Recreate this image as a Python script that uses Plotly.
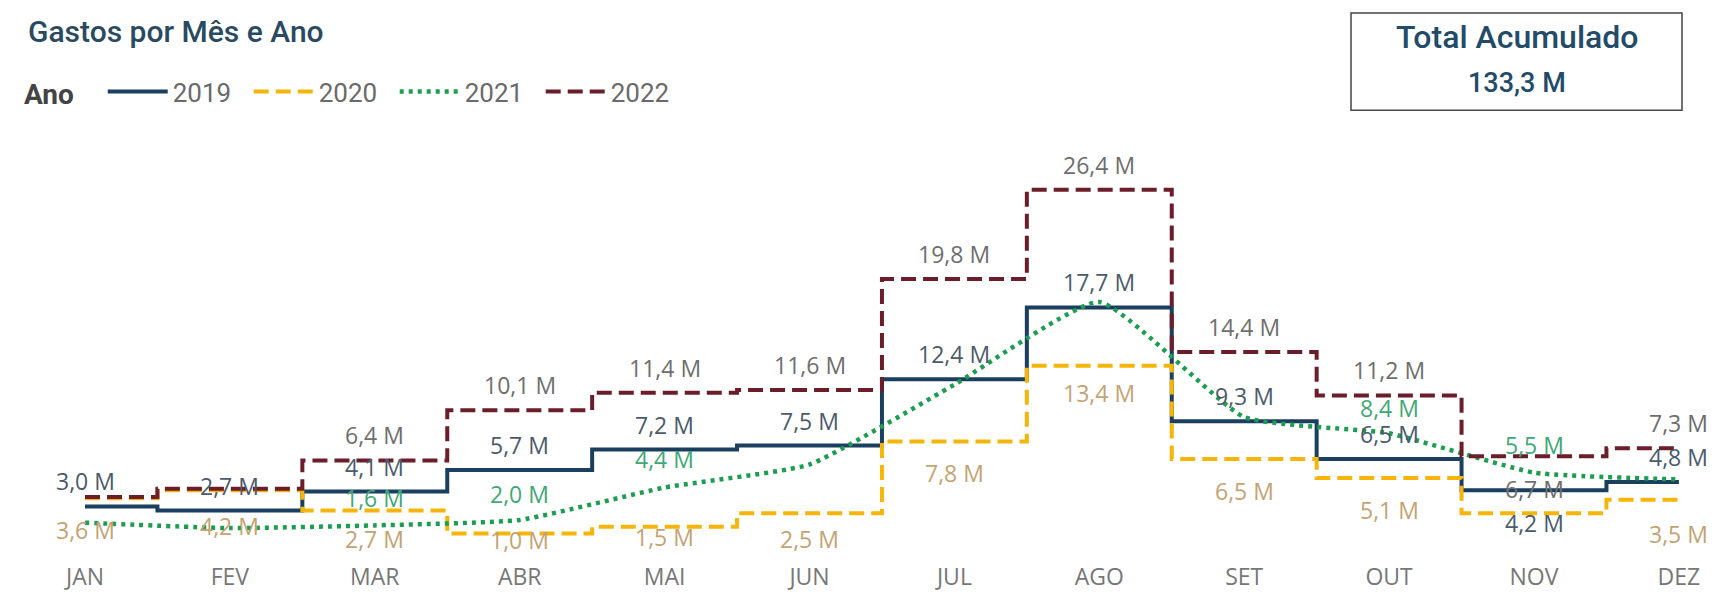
import plotly.graph_objects as go

# ---- data (values in millions) ----
months = ["JAN", "FEV", "MAR", "ABR", "MAI", "JUN", "JUL", "AGO", "SET", "OUT", "NOV", "DEZ"]
years = ["2019", "2020", "2021", "2022"]
v2019 = [3.0, 2.7, 4.1, 5.7, 7.2, 7.5, 12.4, 17.7, 9.3, 6.5, 4.2, 4.8]
v2020 = [3.6, 4.2, 2.7, 1.0, 1.5, 2.5, 7.8, 13.4, 6.5, 5.1, 2.5, 3.5]
v2021 = [1.8, 1.4, 1.6, 2.0, 4.4, 6.1, 12.0, 18.1, 9.6, 8.4, 5.5, 5.0]
v2022 = [3.7, 4.3, 6.4, 10.1, 11.4, 11.6, 19.8, 26.4, 14.4, 11.2, 6.7, 7.3]
series_values = [v2019, v2020, v2021, v2022]

# ---- styles ----
line_colors = ["#1B3F5E", "#F5B50A", "#1C9E50", "#6B1E2A"]
label_colors = ["#4B5B6B", "#C4A373", "#3FA877", "#6E6E6E"]
line_dash = ["solid", "15px,7px", "4px,5px", "15px,7px"]
line_shape = ["hvh", "hvh", "spline", "hvh"]
line_width = [4, 4, 4.5, 4]
# vertical offset of each data label in pixels (None = label hidden, as in the original)
label_shift = [
    [25, 25, 25, 25, 25, 25, 25, 25, 25, 25, -33, 25],
    [-32, -36, -28, -6, -10, -26, -32, -27, -32, -32, None, -34],
    [None, None, 27, 26, 28, None, None, None, None, 25, 28, None],
    [None, None, 25, 25, 25, 25, 25, 25, 25, 25, -33, 25],
]

OFF = 8                      # page body margin
W, H = 1702, 584             # figure size (fits the 1718x600 window with the body margin)
ML, MR, MT, MB = 0, 0, 112, 34
plot_w = W - ML - MR
plot_h = H - MT - MB
PX_PER_M = 13.79
ZERO_Y = 547                 # figure pixel of value 0
JAN_X, STEP_X = 77, 144.9    # figure pixel of first category, spacing

def sx(p):
    """screen x -> paper x"""
    return (p - OFF - ML) / plot_w

def sy(p):
    """screen y -> paper y"""
    return (H - MB - (p - OFF)) / plot_h

def fmt(v):
    return f"{v:.1f}".replace(".", ",") + " M"

fig = go.Figure()
for name, vals, c, d, s, w in zip(years, series_values, line_colors, line_dash, line_shape, line_width):
    fig.add_trace(go.Scatter(
        x=months, y=vals, name=name, mode="lines",
        line=dict(color=c, dash=d, shape=s, width=w, smoothing=0.45 if s == "spline" else None),
        hoverinfo="x+y+name",
    ))

annotations = []
for vals, col, shifts in zip(series_values, label_colors, label_shift):
    for m, v, sh in zip(months, vals, shifts):
        if sh is None:
            continue
        annotations.append(dict(
            x=m, y=v, xref="x", yref="y", text=fmt(v), showarrow=False,
            xanchor="center", yanchor="middle",
            yshift=sh, font=dict(family="Open Sans", size=23, color=col),
        ))

# Total box
total = sum(v2022)
fig.add_shape(type="rect", xref="paper", yref="paper",
              x0=sx(1351), x1=sx(1682), y0=sy(110), y1=sy(11),
              line=dict(color="#444444", width=1.5), fillcolor="white", layer="below")
annotations.append(dict(x=sx(1517), y=sy(35), xref="paper", yref="paper",
                        xanchor="center", yanchor="middle",
                        text="Total Acumulado", showarrow=False,
                        font=dict(family="Roboto", size=32, color="#224B68", weight=500)))
annotations.append(dict(x=sx(1517), y=sy(82), xref="paper", yref="paper",
                        xanchor="center", yanchor="middle",
                        text=fmt(total), showarrow=False,
                        font=dict(family="Roboto", size=27, color="#224B68", weight=500)))

fig.update_layout(
    width=W, height=H,
    margin=dict(l=ML, r=MR, t=MT, b=MB),
    paper_bgcolor="white", plot_bgcolor="white",
    title=dict(text="Gastos por Mês e Ano", x=(28 - OFF) / W, xanchor="left",
               y=1 - (31 - OFF) / H, yanchor="middle", pad=dict(l=0, t=0, b=0, r=0),
               font=dict(family="Roboto", size=30, color="#2A4A62", weight=500)),
    showlegend=True,
    legend=dict(orientation="h", x=sx(22), xanchor="left", y=sy(91), yanchor="middle",
                title=dict(text="<b>Ano</b>\u00a0\u00a0\u00a0",
                           font=dict(family="Roboto", size=28, color="#444444")),
                font=dict(family="Roboto", size=26, color="#6A6A6A"),
                itemwidth=60, entrywidth=71, tracegroupgap=0, bgcolor="rgba(0,0,0,0)"),
    xaxis=dict(type="category", categoryorder="array", categoryarray=months,
               range=[-JAN_X / STEP_X, (plot_w - JAN_X) / STEP_X],
               showgrid=False, zeroline=False, showline=False,
               ticks="", tickfont=dict(family="Open Sans", size=23, color="#777777"),
               ticklabelstandoff=11),
    yaxis=dict(range=[(ZERO_Y - (H - MB)) / PX_PER_M, (ZERO_Y - MT) / PX_PER_M], visible=False,
               showgrid=False, zeroline=False),
    annotations=annotations,
)

fig.write_html("out.html")
